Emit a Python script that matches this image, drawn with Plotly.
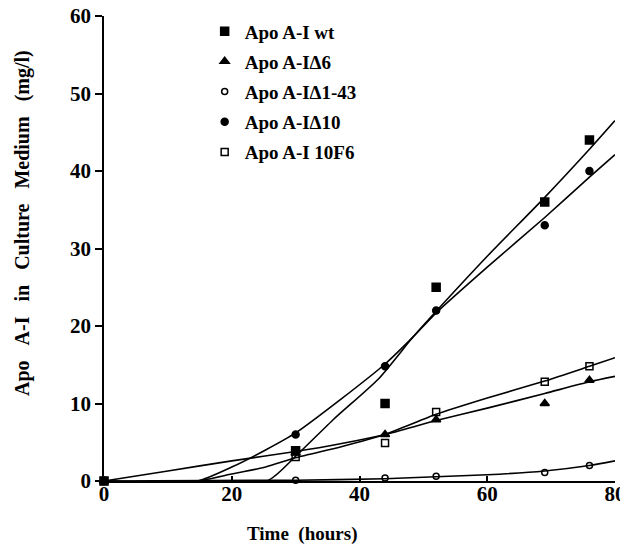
import plotly.graph_objects as go

# ---- data ----
time_points = [0, 30, 44, 52, 69, 76]

wt_vals = [0, 3.9, 10, 25, 36, 44]
d6_vals = [0, 3.6, 6, 7.9, 10, 13]
d143_vals = [0, 0.1, 0.4, 0.6, 1.1, 2]
d10_vals = [0, 6, 14.8, 22, 33, 40]
f6_vals = [0, 3.1, 4.9, 8.9, 12.8, 14.8]

# fitted curves
wt_fit_x = [0, 25.5, 30, 36, 43, 48.4, 52, 60, 69, 76, 80]
wt_fit_y = [0, 0, 3.2, 8.0, 13.2, 18.6, 21.9, 29.0, 36.6, 42.8, 46.5]

d10_fit_x = [0, 14.6, 20, 25.3, 30, 37, 44, 48.4, 52, 60, 69, 76, 80]
d10_fit_y = [0, 0, 1.8, 4.0, 6.2, 10.5, 15.1, 18.6, 21.7, 27.6, 34.0, 39.2, 42.1]

d6_fit_x = [0, 10, 20, 30, 37, 44, 52, 60, 69, 76, 80]
d6_fit_y = [0, 1.3, 2.6, 3.8, 4.8, 6.0, 7.8, 9.4, 11.3, 12.8, 13.5]

f6_fit_x = [0, 14.6, 20, 25.3, 30, 37, 44, 52, 60, 69, 76, 80]
f6_fit_y = [0, 0, 0.9, 1.8, 3.0, 4.4, 6.0, 8.6, 10.7, 12.9, 14.8, 15.9]

d143_fit_x = [0, 30, 44, 52, 60, 69, 76, 80]
d143_fit_y = [0, 0.1, 0.3, 0.55, 0.8, 1.3, 2.0, 2.6]

x_ticks = [0, 20, 40, 60, 80]
y_ticks = [0, 10, 20, 30, 40, 50, 60]

series = [
    ("Apo A-I wt", wt_vals, "square", 8, wt_fit_x, wt_fit_y),
    ("Apo A-I\u03946", d6_vals, "triangle-up", 8, d6_fit_x, d6_fit_y),
    ("Apo A-I\u03941-43", d143_vals, "circle-open", 6, d143_fit_x, d143_fit_y),
    ("Apo A-I\u039410", d10_vals, "circle", 7, d10_fit_x, d10_fit_y),
    ("Apo A-I 10F6", f6_vals, "square-open", 7, f6_fit_x, f6_fit_y),
]

FONT = "Liberation Serif"
fig = go.Figure()

# curves
for name, vals, sym, size, fx, fy in series:
    fig.add_trace(go.Scatter(
        x=fx, y=fy, mode="lines", line=dict(color="black", width=1.6, shape="spline", smoothing=0.6),
        showlegend=False, hoverinfo="skip", cliponaxis=False))

# markers
for i, (name, vals, sym, size, fx, fy) in enumerate(series):
    fig.add_trace(go.Scatter(
        x=time_points, y=vals, mode="markers", name=name, legendgroup=f"g{i}",
        marker=dict(symbol=sym, size=size, color="black",
                    line=dict(color="black", width=1.5)),
        cliponaxis=False))

# page body has an 8px default margin, so the figure is 8px smaller
fig.update_layout(
    width=620, height=537, autosize=False,
    margin=dict(l=96, r=13, t=8, b=64, autoexpand=False),
    paper_bgcolor="white", plot_bgcolor="white",
    font=dict(family=FONT, color="black", weight="bold"),
    legend=dict(x=0.197, y=1.008, xanchor="left", yanchor="top",
                font=dict(family=FONT, size=19, color="black", weight="bold"),
                tracegroupgap=2.5, bgcolor="rgba(0,0,0,0)", itemwidth=30),
    xaxis=dict(range=[0, 80], tickvals=x_ticks, ticktext=[str(v) for v in x_ticks],
               ticks="inside", ticklen=5, tickwidth=1.5, tickcolor="black",
               showline=True, linecolor="black", linewidth=1.6,
               showgrid=False, zeroline=False, ticklabelstandoff=-7,
               ticklabeloverflow="allow",
               tickfont=dict(family=FONT, size=21, color="black", weight="bold")),
    yaxis=dict(range=[0, 60], tickvals=y_ticks, ticktext=[str(v) for v in y_ticks],
               ticks="outside", ticklen=7, tickwidth=1.5, tickcolor="black",
               showline=True, linecolor="black", linewidth=1.6,
               showgrid=False, zeroline=False, ticklabeloverflow="allow",
               tickfont=dict(family=FONT, size=21, color="black", weight="bold")),
    annotations=[
        dict(text="Time\u00a0\u00a0(hours)", xref="paper", yref="paper",
             x=(302 - 104) / 511, y=(481 - 534) / 465, xanchor="center", yanchor="middle",
             showarrow=False, font=dict(family=FONT, size=19, color="black", weight="bold")),
        dict(text="Apo\u00a0\u00a0\u00a0A-I\u00a0\u00a0\u00a0in\u00a0\u00a0\u00a0Culture\u00a0\u00a0\u00a0Medium\u00a0\u00a0\u00a0(mg/l)",
             xref="paper", yref="paper", textangle=-90,
             x=(22 - 104) / 511, y=(481 - 223) / 465, xanchor="center", yanchor="middle",
             showarrow=False, font=dict(family=FONT, size=20, color="black", weight="bold")),
    ],
)

fig.write_html("out.html")
